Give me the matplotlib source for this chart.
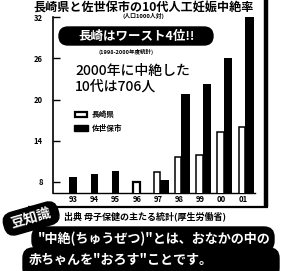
import matplotlib
matplotlib.use('Agg')
import matplotlib.pyplot as plt
import numpy as np
from matplotlib.patches import FancyBboxPatch, Rectangle
from matplotlib.transforms import Affine2D

plt.rcParams['font.family'] = ['Noto Sans CJK JP', 'DejaVu Sans']

# ---- data ----
years = ['93', '94', '95', '96', '97', '98', '99', '00', '01']
nagasaki = [np.nan, np.nan, np.nan, 7.9, 9.4, 11.6, 11.9, 15.3, 16.0]
sasebo = [8.7, 9.1, 9.5, np.nan, 8.2, 20.8, 22.3, 26.0, 32.0]
yticks = [8, 14, 20, 26, 32]
series_names = ['長崎県', '佐世保市']

title = '長崎県と佐世保市の10代人工妊娠中絶率'
unit = '(人口1000人対)'
badge = '長崎はワースト4位!!'
badge_note = '(1998-2000年度統計)'
note1 = '2000年に中絶した'
note2 = '10代は706人'
source = '出典 母子保健の主たる統計(厚生労働省)'
tip_label = '豆知識'
tip1 = '"中絶(ちゅうぜつ)"とは、おなかの中の'
tip2 = '赤ちゃんを"おろす"ことです。'

W, H = 286, 271
fig = plt.figure(figsize=(W / 100, H / 100), dpi=100)
fig.patch.set_facecolor('white')

# ---- chart axes ----
L, R, B, T = 52.5, 255, 192.7, 17
ax = fig.add_axes([L / W, 1 - B / H, (R - L) / W, (B - T) / H])
x = np.arange(len(years))
wN, wS, off = 0.30, 0.40, 0.35
for i in range(len(years)):
    n, s = nagasaki[i], sasebo[i]
    hasn, hass = not np.isnan(n), not np.isnan(s)
    if hasn and hass:
        ax.bar(x[i], n, width=wN, color='white', edgecolor='black', lw=1.1, zorder=3)
        ax.bar(x[i] + off, s, width=wS, color='black', zorder=2)
    elif hasn:
        ax.bar(x[i] + 0.05, n, width=wS * 0.85, color='white', edgecolor='black', lw=1.6, zorder=3)
    elif hass:
        ax.bar(x[i] + 0.05, s, width=wS * 0.85, color='black', zorder=2)

ax.set_xlim(-0.92, 8.62)
ax.set_ylim(6.4, 32.05)
ax.set_yticks(yticks)
ax.set_yticklabels([str(v) for v in yticks], fontsize=5.5, fontweight='bold')
ax.set_xticks(x + 0.05)
ax.set_xticklabels(years, fontsize=5.5, fontweight='bold')
ax.tick_params(axis='y', direction='in', length=5, width=1, pad=7)
ax.tick_params(axis='x', length=0, pad=2)
for sp in ['top', 'right']:
    ax.spines[sp].set_visible(False)
ax.spines['left'].set_linewidth(1.2)
ax.spines['bottom'].set_linewidth(1.0)
ax.patch.set_alpha(0)

# ---- overlay in pixel coordinates ----
ov = fig.add_axes([0, 0, 1, 1], zorder=5)
ov.set_xlim(0, W)
ov.set_ylim(H, 0)
ov.axis('off')
ov.patch.set_alpha(0)

ov.text(144, 7, title, ha='center', va='center', fontsize=8.7, fontweight='bold')
ov.text(143, 16, unit, ha='center', va='center', fontsize=4.2, fontweight='bold')

ov.add_patch(FancyBboxPatch((59, 27), 154, 18, boxstyle='round,pad=0,rounding_size=9',
                            fc='black', ec='black'))
ov.text(137, 36.5, badge, ha='center', va='center', fontsize=9, fontweight='bold', color='white')
ov.text(126, 52, badge_note, ha='center', va='center', fontsize=4, fontweight='bold')
ov.text(75, 71, note1, ha='left', va='center', fontsize=10, fontweight='medium')
ov.text(75, 87, note2, ha='left', va='center', fontsize=10, fontweight='medium')

# legend
ov.add_patch(Rectangle((74.5, 112), 12, 5, fc='white', ec='black', lw=1.6))
ov.add_patch(Rectangle((74, 125), 14, 6, fc='black', ec='black'))
ov.text(92, 114.5, series_names[0], ha='left', va='center', fontsize=5.5, fontweight='bold')
ov.text(92, 128, series_names[1], ha='left', va='center', fontsize=5.5, fontweight='bold')

# frame lines
ov.plot([266, 266], [0, 207], color='black', lw=3.2, solid_capstyle='butt')
ov.plot([28, 267.5], [207, 207], color='black', lw=1.6, solid_capstyle='butt')

# source
ov.text(64, 216, source, ha='left', va='center', fontsize=6.5, fontweight='bold')

# tip badge
tr = Affine2D().rotate_deg_around(31, 218, -16) + ov.transData
ov.add_patch(FancyBboxPatch((3, 207), 56, 23, boxstyle='round,pad=0,rounding_size=10',
                            fc='black', ec='black', transform=tr))
ov.text(31, 218, tip_label, ha='center', va='center', fontsize=10, fontweight='bold',
        color='white', rotation=16)

# tip text boxes
ov.add_patch(FancyBboxPatch((32, 227), 242, 24, boxstyle='round,pad=0,rounding_size=10',
                            fc='black', ec='black'))
ov.add_patch(FancyBboxPatch((23, 248), 256, 30, boxstyle='round,pad=0,rounding_size=10',
                            fc='black', ec='black'))
ov.text(38, 239, tip1, ha='left', va='center', fontsize=9.4, fontweight='bold', color='white')
ov.text(29, 260, tip2, ha='left', va='center', fontsize=9.4, fontweight='bold', color='white')

fig.savefig('out.png', dpi=100, facecolor='white')
